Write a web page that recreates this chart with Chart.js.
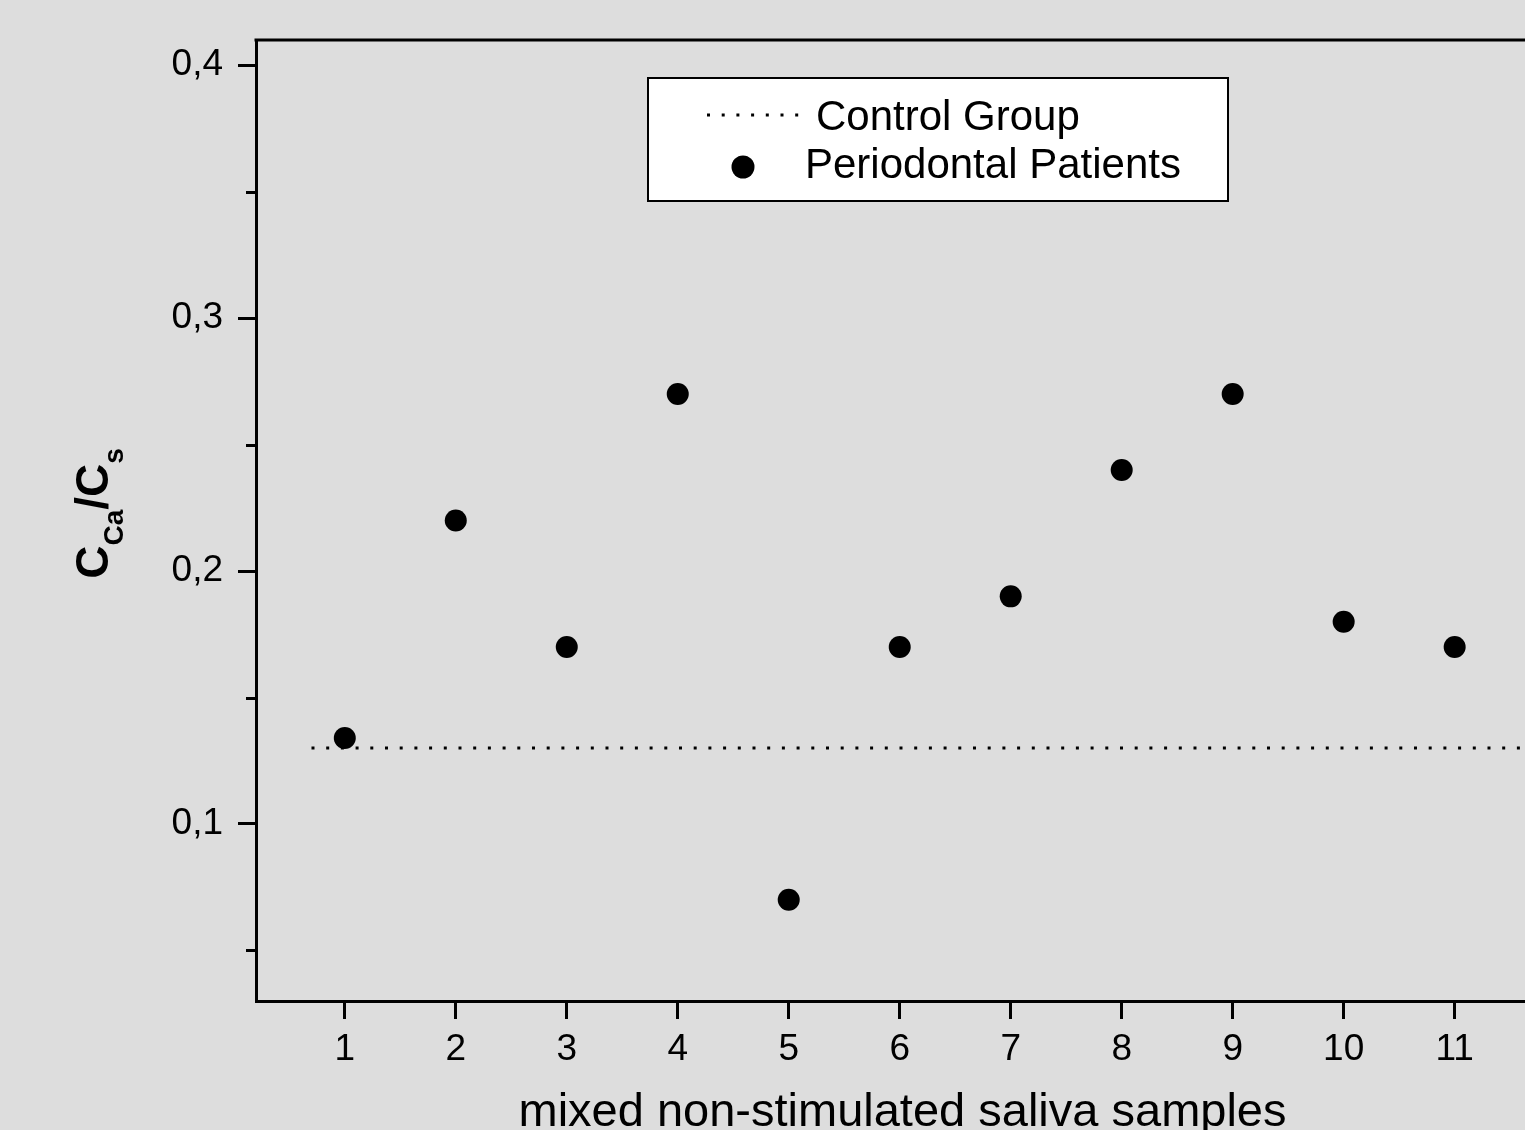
<!DOCTYPE html>
<html>
<head>
<meta charset="utf-8">
<script src="https://cdn.jsdelivr.net/npm/chart.js@4.4.1/dist/chart.umd.min.js"></script>
<style>
  html, body { margin: 0; padding: 0; background: #dddddd; overflow: hidden; }
  #wrap { position: relative; width: 1560px; height: 1160px; }
</style>
</head>
<body>
<div id="wrap"><canvas id="chart" width="1560" height="1160"></canvas></div>
<script>
// data
const samples = [1, 2, 3, 4, 5, 6, 7, 8, 9, 10, 11];
const ratio = [0.134, 0.22, 0.17, 0.27, 0.07, 0.17, 0.19, 0.24, 0.27, 0.18, 0.17];
const controlLevel = 0.13;
const controlFrom = 0.7;

// axis setup
const xRange = [0.2, 11.85];
const yRange = [0.03, 0.41];
const yMajor = [0.1, 0.2, 0.3, 0.4];
const yMinor = [0.05, 0.15, 0.25, 0.35];

const FONT = "'Liberation Sans', Arial, sans-serif";

// frame, minor ticks, legend box and y title (with subscripts)
const framePlugin = {
  id: 'frame',
  afterDraw(chart) {
    const { ctx, chartArea: a, scales } = chart;
    ctx.save();
    ctx.strokeStyle = '#000';
    ctx.lineWidth = 3;
    ctx.lineCap = 'square';
    // top + right border
    ctx.beginPath();
    ctx.moveTo(a.left, a.top);
    ctx.lineTo(a.right, a.top);
    ctx.lineTo(a.right, a.bottom);
    ctx.stroke();

    // minor y ticks
    ctx.lineCap = 'butt';
    yMinor.forEach(v => {
      const y = Math.round(scales.y.getPixelForValue(v)) + 0.5;
      ctx.beginPath();
      ctx.moveTo(a.left, y);
      ctx.lineTo(a.left - 10, y);
      ctx.stroke();
    });

    // legend
    const bx = a.left + 392, by = a.top + 38;
    ctx.fillStyle = '#fff';
    ctx.fillRect(bx, by, 580, 123);
    ctx.lineWidth = 2;
    ctx.strokeRect(bx, by, 580, 123);

    ctx.lineWidth = 3;
    ctx.setLineDash([3, 11.7]);
    ctx.beginPath();
    ctx.moveTo(a.left + 451, a.top + 75);
    ctx.lineTo(a.left + 545, a.top + 75);
    ctx.stroke();
    ctx.setLineDash([]);

    ctx.fillStyle = '#000';
    ctx.beginPath();
    ctx.arc(a.left + 487, a.top + 127, 11.5, 0, Math.PI * 2);
    ctx.fill();

    ctx.font = '42px ' + FONT;
    ctx.textBaseline = 'alphabetic';
    ctx.textAlign = 'left';
    ctx.fillText('Control Group', a.left + 560, a.top + 90);
    ctx.fillText('Periodontal Patients', a.left + 549, a.top + 138);

    // y title: C_Ca / C_s
    const big = 'bold 46px ' + FONT, small = 'bold 28px ' + FONT;
    const parts = [['C', big, 0], ['Ca', small, 15], ['/C', big, 0], ['s', small, 15]];
    let total = 0;
    parts.forEach(p => { ctx.font = p[1]; total += ctx.measureText(p[0]).width; });
    ctx.translate(a.left - 148, (a.top + a.bottom) / 2 - 7 + total / 2);
    ctx.rotate(-Math.PI / 2);
    let x = 0;
    parts.forEach(p => {
      ctx.font = p[1];
      ctx.fillText(p[0], x, p[2]);
      x += ctx.measureText(p[0]).width;
    });
    ctx.restore();
  }
};

const ctx = document.getElementById('chart');
new Chart(ctx, {
  type: 'scatter',
  data: {
    datasets: [
      {
        label: 'Periodontal Patients',
        data: samples.map((s, i) => ({ x: s, y: ratio[i] })),
        backgroundColor: '#000',
        borderWidth: 0,
        pointRadius: 11,
        pointHoverRadius: 11
      },
      {
        label: 'Control Group',
        type: 'line',
        data: [{ x: controlFrom, y: controlLevel }, { x: xRange[1], y: controlLevel }],
        borderColor: '#000',
        borderWidth: 3,
        borderDash: [3, 11.7],
        pointRadius: 0,
        fill: false
      }
    ]
  },
  options: {
    responsive: false,
    animation: false,
    layout: { padding: { top: 40, right: 10, bottom: 0, left: 0 } },
    plugins: { legend: { display: false }, tooltip: { enabled: false } },
    scales: {
      x: {
        type: 'linear',
        min: xRange[0],
        max: xRange[1],
        afterBuildTicks: s => { s.ticks = samples.map(v => ({ value: v })); },
        afterFit: s => { s.height = 1160 - 1001; },
        grid: { drawOnChartArea: false, tickLength: 18, tickWidth: 3, tickColor: '#000' },
        border: { color: '#000', width: 3 },
        ticks: { color: '#000', font: { family: FONT, size: 37 }, padding: 9, maxRotation: 0, autoSkip: false },
        title: {
          display: true,
          text: 'mixed non-stimulated saliva samples',
          color: '#000',
          font: { family: FONT, size: 47 },
          padding: { top: 0, bottom: 19 }
        }
      },
      y: {
        min: yRange[0],
        max: yRange[1],
        afterBuildTicks: s => { s.ticks = yMajor.map(v => ({ value: v })); },
        afterFit: s => { s.width = 256; },
        grid: { drawOnChartArea: false, tickLength: 18, tickWidth: 3, tickColor: '#000' },
        border: { color: '#000', width: 3 },
        ticks: {
          color: '#000',
          font: { family: FONT, size: 37 },
          padding: 15,
          callback: v => v.toFixed(1).replace('.', ',')
        }
      }
    }
  },
  plugins: [framePlugin]
});
</script>
</body>
</html>
